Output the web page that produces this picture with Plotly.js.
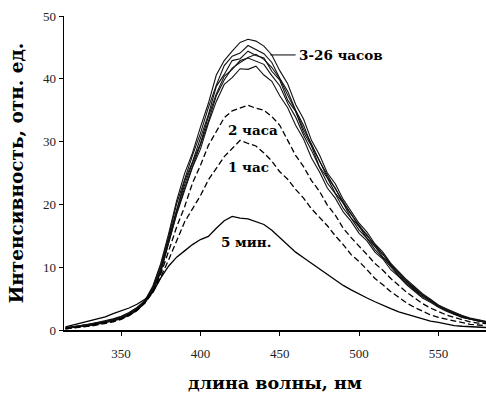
<!DOCTYPE html>
<html><head><meta charset="utf-8">
<script src="https://cdn.plot.ly/plotly-3.0.1.min.js"></script>
<style>html,body{margin:0;padding:0;background:#fff}#chart{width:486px;height:396px}</style>
</head><body><div id="chart"></div>
<script>
const wavelength = [315,320,325,330,335,340,345,350,355,360,365,370,375,380,385,390,395,400,405,410,415,420,425,430,435,440,445,450,455,460,465,470,475,480,485,490,495,500,505,510,515,520,525,530,535,540,545,550,555,560,565,570,575,580];

const min5 = [0.5,0.8,1.1,1.4,1.7,2.1,2.6,3.0,3.5,4.1,4.9,6.0,8.3,10.2,11.6,12.6,13.6,14.4,14.9,16.2,17.4,18.1,17.8,17.7,17.2,16.8,15.9,14.7,13.5,12.4,11.5,10.6,9.7,8.9,8.0,7.1,6.4,5.7,5.1,4.5,3.9,3.4,2.9,2.5,2.1,1.7,1.4,1.2,0.9,0.7,0.6,0.5,0.4,0.4];
const hour1 = [0.2,0.3,0.4,0.6,0.8,1.0,1.3,1.7,2.3,3.1,4.3,6.0,8.4,11.2,14.1,17.2,19.3,21.4,23.9,25.8,27.6,28.9,30.2,29.7,29.3,28.2,26.9,25.2,24.0,22.4,21.0,19.3,18.0,16.6,15.0,13.6,12.0,10.9,9.6,8.2,7.2,6.1,5.2,4.3,3.6,3.0,2.4,2.0,1.7,1.4,1.1,0.9,0.8,0.7];
const hour2 = [0.2,0.3,0.5,0.7,0.9,1.1,1.4,1.8,2.4,3.2,4.4,6.2,8.9,12.6,16.4,19.6,23.4,26.2,29.4,31.6,33.8,34.9,35.4,35.8,35.3,35.0,34.0,32.6,30.2,27.8,26.0,23.8,22.1,19.9,18.3,16.2,14.7,13.4,12.0,10.6,9.5,8.2,7.1,6.0,5.1,4.2,3.5,2.9,2.4,2.0,1.6,1.3,1.1,1.0];
const hours3to26a = [0.2,0.4,0.5,0.7,0.9,1.1,1.4,1.8,2.3,3.1,4.3,6.3,9.4,13.9,18.4,22.2,25.9,28.8,32.9,36.4,39.1,40.2,41.6,41.5,42.0,40.6,39.6,37.3,35.4,32.6,30.4,27.4,25.2,22.6,21.0,18.8,17.3,15.4,14.2,12.4,11.3,9.6,8.5,7.2,6.2,5.1,4.4,3.6,3.0,2.5,2.0,1.7,1.4,1.2];
const hours3to26b = [0.3,0.4,0.6,0.8,1.0,1.2,1.5,1.9,2.5,3.3,4.5,6.4,9.7,14.3,19.0,23.1,26.6,29.7,34.0,37.6,40.4,41.5,42.9,43.3,42.8,42.3,40.5,38.9,36.1,33.9,31.0,28.6,25.9,23.4,21.7,19.4,17.8,15.9,14.6,12.8,11.5,10.0,8.6,7.4,6.4,5.3,4.6,3.7,3.2,2.5,2.1,1.7,1.5,1.2];
const hours3to26c = [0.3,0.5,0.6,0.8,1.1,1.3,1.7,2.0,2.6,3.4,4.4,6.6,9.9,14.6,19.4,23.7,26.8,30.7,34.3,38.8,40.7,42.9,43.2,44.4,43.7,43.3,41.2,39.8,36.6,34.8,31.5,29.3,26.0,24.2,21.8,20.2,17.8,16.5,14.6,13.3,11.6,10.3,8.7,7.7,6.4,5.6,4.5,3.9,3.1,2.7,2.0,1.8,1.4,1.3];
const hours3to26d = [0.3,0.5,0.7,0.9,1.1,1.4,1.7,2.1,2.7,3.5,4.6,6.8,10.3,14.9,20.1,24.0,27.8,31.3,35.4,39.0,42.1,43.6,44.1,45.3,44.7,44.0,42.6,40.1,38.0,35.0,32.6,29.4,27.0,24.3,22.6,20.2,18.5,16.4,15.2,13.3,12.1,10.3,9.1,7.6,6.8,5.5,4.8,3.8,3.3,2.6,2.2,1.8,1.6,1.3];
const hours3to26e = [0.4,0.5,0.7,0.9,1.2,1.4,1.8,2.2,2.8,3.6,4.7,7.0,10.6,15.4,20.6,24.9,28.2,32.3,36.1,40.6,42.9,44.4,45.8,46.3,46.0,45.2,43.8,41.3,39.2,35.9,33.6,30.2,27.9,25.0,23.3,20.8,19.0,17.0,15.6,13.7,12.4,10.6,9.3,8.0,6.9,5.8,4.9,4.0,3.4,2.8,2.3,1.9,1.6,1.4];
const hours3to26f = [0.3,0.4,0.5,0.7,0.9,1.2,1.5,1.9,2.4,3.2,4.3,6.1,9.2,13.7,18.6,22.6,26.0,29.5,33.2,37.3,39.8,41.7,42.6,43.4,43.9,43.1,41.8,40.0,37.4,34.9,32.0,29.6,26.9,24.6,22.5,20.4,18.4,16.7,15.0,13.6,12.0,10.5,9.0,7.8,6.6,5.6,4.7,3.9,3.2,2.7,2.2,1.8,1.5,1.3];

const xTicks = [350,400,450,500,550];
const yTicks = [0,10,20,30,40,50];
const labelBundle = "3-26 часов";
const label2h = "2 часа";
const label1h = "1 час";
const label5m = "5 мин.";
const xTitle = "длина волны, нм";
const yTitle = "Интенсивность, отн. ед.";

const SERIF = 'Liberation Serif';
const WIDE = 'DejaVu Serif';
const bundle = [hours3to26a,hours3to26b,hours3to26c,hours3to26d,hours3to26e,hours3to26f];
const traces = [];
bundle.forEach(y => traces.push({x: wavelength, y: y, mode: 'lines', line: {color: '#111', width: 1.1}, hoverinfo: 'skip'}));
traces.push({x: wavelength, y: hour2, mode: 'lines', line: {color: '#000', width: 1.3, dash: '6px,3px'}});
traces.push({x: wavelength, y: hour1, mode: 'lines', line: {color: '#000', width: 1.3, dash: '6px,3px'}});
traces.push({x: wavelength, y: min5, mode: 'lines', line: {color: '#000', width: 1.3}});

const layout = {
  width: 486, height: 396,
  margin: {l: 64, r: 0, t: 16, b: 66},
  paper_bgcolor: '#fff', plot_bgcolor: '#fff',
  showlegend: false,
  font: {family: SERIF, color: '#000', size: 12},
  xaxis: {
    range: [314, 580], tickvals: xTicks, ticktext: xTicks.map(String),
    showgrid: false, zeroline: false, showline: true, linecolor: '#000', linewidth: 1.5,
    ticks: 'outside', ticklen: 4, tickcolor: '#000', tickwidth: 1,
    ticklabelstandoff: 7,
    tickfont: {family: SERIF, size: 13, color: '#222'},
    title: {text: '<b>' + xTitle + '</b>', font: {family: WIDE, size: 17.5, color: '#000'}, standoff: 16}
  },
  yaxis: {
    range: [0, 50], tickvals: yTicks, ticktext: yTicks.map(String),
    showgrid: false, zeroline: false, showline: true, linecolor: '#000', linewidth: 1.5,
    ticks: 'outside', ticklen: 4, tickcolor: '#000', tickwidth: 1,
    tickfont: {family: SERIF, size: 13, color: '#222'},
    title: {text: '<b>' + yTitle + '</b>', font: {family: WIDE, size: 18.5, color: '#000'}, standoff: 14}
  },
  shapes: [
    {type: 'line', xref: 'x', yref: 'y', x0: 444, x1: 460, y0: 43.8, y1: 43.8, line: {color: '#000', width: 1}}
  ],
  annotations: [
    {x: 461, y: 43.8, xref: 'x', yref: 'y', text: '<b>' + labelBundle + '</b>', showarrow: false, xanchor: 'left', yanchor: 'middle', font: {family: WIDE, size: 13.5, color: '#000'}},
    {x: 433, y: 31.8, xref: 'x', yref: 'y', text: '<b>' + label2h + '</b>', showarrow: false, xanchor: 'center', yanchor: 'middle', font: {family: WIDE, size: 13.5, color: '#000'}},
    {x: 430, y: 26.0, xref: 'x', yref: 'y', text: '<b>' + label1h + '</b>', showarrow: false, xanchor: 'center', yanchor: 'middle', font: {family: WIDE, size: 13.5, color: '#000'}},
    {x: 429, y: 14.0, xref: 'x', yref: 'y', text: '<b>' + label5m + '</b>', showarrow: false, xanchor: 'center', yanchor: 'middle', font: {family: WIDE, size: 13.5, color: '#000'}}
  ]
};
Plotly.newPlot('chart', traces, layout, {staticPlot: true, displayModeBar: false});
</script>
</body></html>
